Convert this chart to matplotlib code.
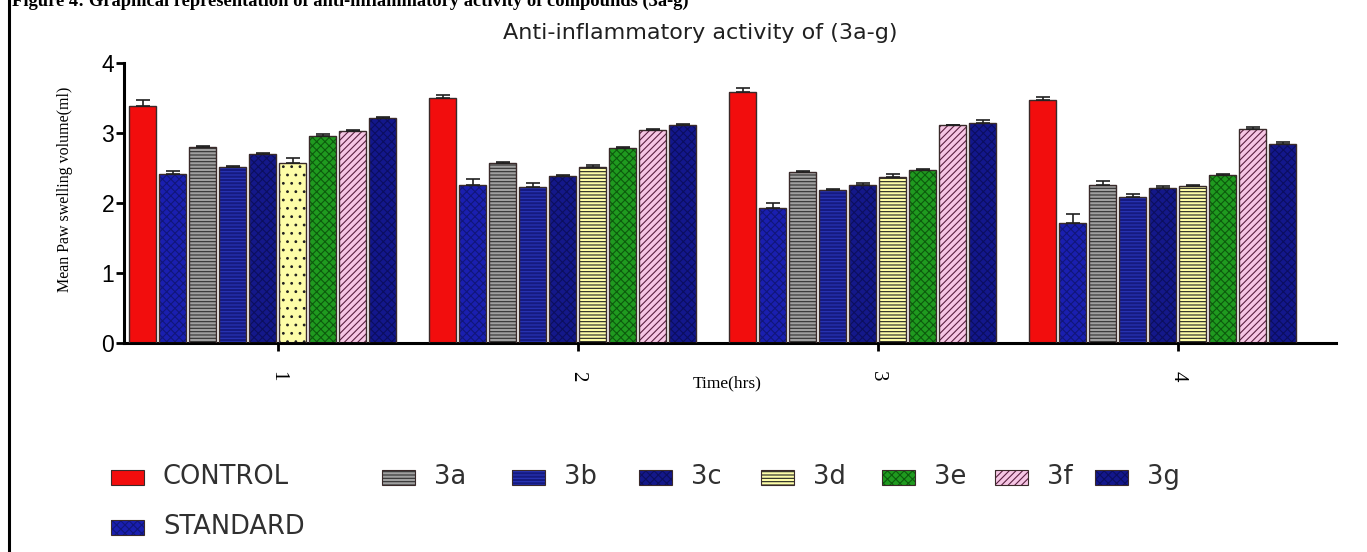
import matplotlib
matplotlib.use("Agg")
import matplotlib.pyplot as plt
import numpy as np
from matplotlib.patches import Rectangle
from matplotlib.lines import Line2D

# ---------------- data ----------------
time_hrs = ["1", "2", "3", "4"]
# bar order as drawn within each group
bar_series = ["CONTROL", "STANDARD", "3a", "3b", "3c", "3d", "3e", "3f", "3g"]
legend_order = ["CONTROL", "3a", "3b", "3c", "3d", "3e", "3f", "3g", "STANDARD"]

CONTROL = [3.39, 3.50, 3.58, 3.47]
STANDARD = [2.41, 2.26, 1.93, 1.72]
C3a = [2.80, 2.57, 2.44, 2.26]
C3b = [2.51, 2.23, 2.18, 2.08]
C3c = [2.70, 2.39, 2.26, 2.21]
C3d = [2.57, 2.52, 2.37, 2.24]
C3e = [2.96, 2.78, 2.47, 2.40]
C3f = [3.03, 3.05, 3.11, 3.06]
C3g = [3.21, 3.11, 3.14, 2.85]

CONTROL_err = [0.08, 0.05, 0.07, 0.05]
STANDARD_err = [0.05, 0.08, 0.07, 0.12]
C3a_err = [0.02, 0.02, 0.02, 0.05]
C3b_err = [0.02, 0.05, 0.02, 0.05]
C3c_err = [0.02, 0.01, 0.02, 0.04]
C3d_err = [0.07, 0.02, 0.04, 0.02]
C3e_err = [0.02, 0.02, 0.02, 0.02]
C3f_err = [0.01, 0.01, 0.01, 0.02]
C3g_err = [0.02, 0.02, 0.04, 0.02]

values = {"CONTROL": CONTROL, "STANDARD": STANDARD, "3a": C3a, "3b": C3b,
          "3c": C3c, "3d": C3d, "3e": C3e, "3f": C3f, "3g": C3g}
errors = {"CONTROL": CONTROL_err, "STANDARD": STANDARD_err, "3a": C3a_err,
          "3b": C3b_err, "3c": C3c_err, "3d": C3d_err, "3e": C3e_err,
          "3f": C3f_err, "3g": C3g_err}

title = "Anti-inflammatory activity of (3a-g)"
ylabel = "Mean Paw swelling volume(ml)"
xlabel = "Time(hrs)"
caption = "Figure 4: Graphical representation of anti-inflammatory activity of compounds (3a-g)"

# ---------------- styles ----------------
styles = {
    "CONTROL":  dict(face="#f20d0d", hatch=None, hcol="#f20d0d"),
    "STANDARD": dict(face="#1a1fb0", hatch="xxxx", hcol="#11167a"),
    "3a":       dict(face="#a0a0a0", hatch="-----", hcol="#303030"),
    "3b":       dict(face="#151a80", hatch="-----", hcol="#2a35b8"),
    "3c":       dict(face="#14188a", hatch="xxxx", hcol="#0c0f5e"),
    "3d":       dict(face="#fdfda8", hatch="-----", hcol="#202020"),
    "3e":       dict(face="#1f9a1f", hatch="xxxx", hcol="#0d5a0d"),
    "3f":       dict(face="#f6c6e4", hatch="/////", hcol="#5a2040"),
    "3g":       dict(face="#13178c", hatch="xxxx", hcol="#0b0e60"),
}

plt.rcParams["hatch.linewidth"] = 0.8

W, H = 1367, 552
fig = plt.figure(figsize=(W / 100, H / 100), dpi=100)
fig.patch.set_facecolor("white")

ax = fig.add_axes([124 / W, (H - 343) / H, (1336 - 124) / W, (343 - 63) / H])

slot = 0.1
bw = 0.09
groups = np.arange(1, len(time_hrs) + 1)

for j, name in enumerate(bar_series):
    st = styles[name]
    xs = groups - 0.5 + slot / 2 + slot * j
    vals = values[name]
    for gi, (x, v) in enumerate(zip(xs, vals)):
        hatch = st["hatch"]
        if name == "3d" and gi == 0:
            hatch = ".."
        ax.bar(x, v, width=bw, color=st["face"], edgecolor=st["hcol"],
               hatch=hatch, linewidth=0, zorder=2)
    ax.bar(xs, vals, width=bw, fill=False, edgecolor="#3a2a2a",
           linewidth=1.0, zorder=3)
    ax.errorbar(xs, vals, yerr=[np.zeros(len(vals)), errors[name]],
                fmt="none", ecolor="#202020", elinewidth=1.2, capsize=5,
                capthick=1.2, zorder=4)

ax.set_xlim(0.487, 4.527)
ax.set_ylim(0, 4)
ax.set_yticks([0, 1, 2, 3, 4])
ax.set_xticks(groups)
ax.set_xticklabels(time_hrs, rotation=-90, fontsize=15,
                   family="Liberation Serif")
for lab in ax.get_yticklabels():
    lab.set_fontsize(16.5)
    lab.set_family("Liberation Sans")

for s in ["top", "right"]:
    ax.spines[s].set_visible(False)
for s in ["left", "bottom"]:
    ax.spines[s].set_linewidth(2.2)
    ax.spines[s].set_color("black")
ax.tick_params(axis="y", length=6, width=2, pad=1)
ax.tick_params(axis="x", length=6, width=2, pad=14)

ax.set_ylabel(ylabel, fontsize=11.5, family="Liberation Serif")
ax.yaxis.set_label_coords(-51 / (1336 - 124), 0.55)
fig.text(727 / W, 1 - 383 / H, xlabel, fontsize=12.5, family="Liberation Serif",
         ha="center", va="center")
fig.text(700 / W, 1 - 33 / H, title, fontsize=16, family="DejaVu Sans",
         ha="center", va="center", color="#202020")

# truncated caption at the very top (cut off as in the source image)
fig.text(12 / W, 1 - 6 / H, caption, fontsize=13.3, family="Liberation Serif",
         weight="bold", ha="left", va="baseline")

# left border line
fig.add_artist(Line2D([9 / W, 9 / W], [0, 1], transform=fig.transFigure,
                      color="black", linewidth=2.2))

# ---------------- legend (manual) ----------------
leg_x = {"CONTROL": 111, "3a": 382, "3b": 512, "3c": 639, "3d": 761,
         "3e": 882, "3f": 995, "3g": 1095, "STANDARD": 111}
leg_y = {"CONTROL": 477, "STANDARD": 527}
pw, ph = 33, 15
for name in legend_order:
    st = styles[name]
    x0 = leg_x[name]
    yc = leg_y.get(name, 477)
    rect = Rectangle((x0 / W, (H - yc - ph / 2) / H), pw / W, ph / H,
                     transform=fig.transFigure, facecolor=st["face"],
                     edgecolor=st["hcol"], hatch=st["hatch"], linewidth=0)
    fig.add_artist(rect)
    fig.add_artist(Rectangle((x0 / W, (H - yc - ph / 2) / H), pw / W, ph / H,
                             transform=fig.transFigure, fill=False,
                             edgecolor="#3a2a2a", linewidth=0.8))
    fig.text((x0 + 52) / W, 1 - yc / H, name, fontsize=18.5,
             family="DejaVu Sans", color="#303030", ha="left", va="center")

fig.savefig("out.png", dpi=100, facecolor="white")
